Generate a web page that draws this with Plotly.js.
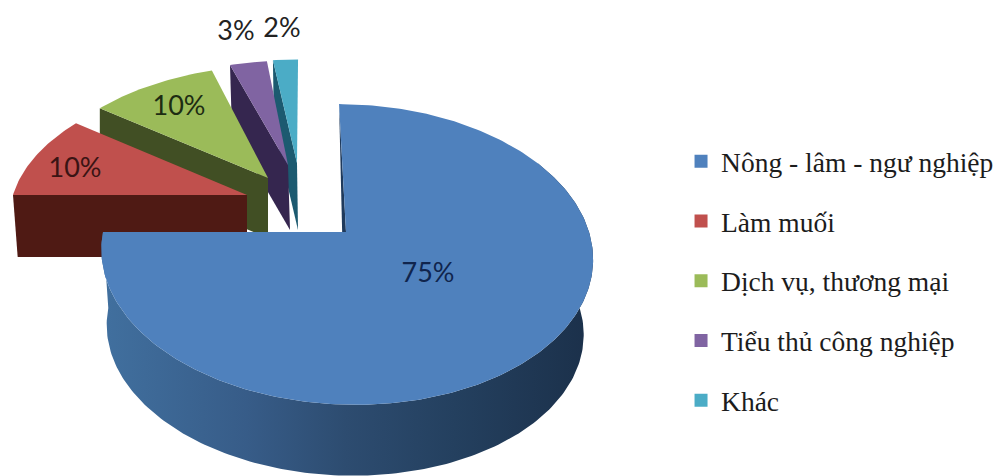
<!DOCTYPE html>
<html>
<head>
<meta charset="utf-8">
<script src="https://cdn.plot.ly/plotly-3.0.1.min.js"></script>
<style>html,body{margin:0;padding:0;background:#fff}#chart{width:1003px;height:476px}</style>
</head>
<body>
<div id="chart"></div>
<script>
// Shares of the local economy, in percent
const categories = ["Nông - lâm - ngư nghiệp", "Làm muối", "Dịch vụ, thương mại", "Tiểu thủ công nghiệp", "Khác"];
const shares = [75, 10, 10, 3, 2];
const topColors = ["#4f81bd", "#c0504d", "#9bbb59", "#8064a2", "#4bacc6"];
const sideColors = ["#1f3a5c", "#4f1a14", "#414f24", "#35264f", "#1c5a70"];
const labelColors = ["#10254d", "#3a1414", "#1d2c12", "#222222", "#222222"];

// Projection of each exploded wedge: tip position, radii, skew, extrusion depth
const wedgeViews = [
  {tipX: 346, tipY: 232, radX: 243, radY: 147, skew: -8, depth: 76, shrink: 0.97, driftX: -2},
  {tipX: 247, tipY: 195, radX: 234, radY: 133, skew: 5.6, depth: 62, shrink: 0.98, driftX: 0},
  {tipX: 268, tipY: 178, radX: 232, radY: 129, skew: 8, depth: 60, shrink: 1, driftX: 0},
  {tipX: 288, tipY: 165, radX: 228, radY: 120, skew: 4.4, depth: 65, shrink: 1, driftX: 2},
  {tipX: 297, tipY: 163, radX: 230, radY: 119, skew: 1.2, depth: 67, shrink: 1, driftX: 1}
];
const tilt = 0.1495;
const labelSpots = [[428, 275], [75, 170], [179, 108], [236, 33], [282, 30]];

// Turn a clockwise pie angle into page space on the upper or lower disc of a wedge
function project(view, deg, radius, lower) {
  const a = deg * Math.PI / 180;
  const u = Math.sin(a) * radius, v = Math.cos(a) * radius;
  const w = 1 + tilt * v;
  let x = (view.radX * u + view.skew * v) / w;
  let y = -view.radY * v / w;
  if (lower) {
    x = x * view.shrink + view.driftX;
    y = y * view.shrink + view.depth;
  }
  return [view.tipX + x, view.tipY + y];
}

function polygon(points, color, extra) {
  return Object.assign({
    x: points.map(p => p[0]), y: points.map(p => p[1]),
    type: "scatter", mode: "lines", fill: "toself", fillcolor: color,
    line: {width: 0}, hoverinfo: "skip", showlegend: false
  }, extra || {});
}

function rim(view, from, to, lower) {
  const pts = [];
  const steps = Math.max(2, Math.ceil(Math.abs(to - from)));
  for (let i = 0; i <= steps; i++) pts.push(project(view, from + (to - from) * i / steps, 1, lower));
  return pts;
}

const total = shares.reduce((s, v) => s + v, 0);
const spans = [];
shares.reduce((start, v) => {
  const end = start + v / total * 360;
  spans.push([start, end]);
  return end;
}, 0);

const traces = [];
// Far wedges are painted first so the nearer ones overlap them
for (let i = shares.length - 1; i >= 0; i--) {
  const view = wedgeViews[i], [from, to] = spans[i];
  const tipTop = project(view, 0, 0, false), tipLow = project(view, 0, 0, true);
  if (i === 0) {
    // Thin dark cut face at the start of the large wedge, then the shaded part of its outer wall
    const wallStart = from + 60;
    traces.push(polygon([project(view, from, 1, false), tipTop, tipLow], sideColors[i]));
    traces.push(polygon(rim(view, wallStart, to, false).concat(rim(view, to, wallStart, true)), sideColors[i], {
      fillgradient: {
        type: "horizontal", start: 100, stop: 592,
        colorscale: [[0, "#41709f"], [0.3, "#375c88"], [0.5, "#2d4c70"], [0.72, "#24405f"], [1, "#1b304a"]]
      }
    }));
  } else if (i === 1) {
    // The front of this wedge is the cut edge along its far end
    traces.push(polygon([project(view, to - 36, 1, false), tipTop, tipLow, project(view, to - 36, 1, true)], sideColors[i]));
  } else {
    traces.push(polygon([project(view, from, 1, false), tipTop, tipLow, project(view, from, 1, true)], sideColors[i]));
  }
  traces.push(polygon([tipTop].concat(rim(view, from, to, false)), topColors[i]));
}

// Percentage labels
traces.push({
  x: labelSpots.map(p => p[0]), y: labelSpots.map(p => p[1]),
  text: shares.map(v => v + "%"), type: "scatter", mode: "text", textposition: "middle center",
  textfont: {family: "Lato, sans-serif", size: 27, color: labelColors},
  hoverinfo: "skip", showlegend: false
});

// Legend entries, one group per category so that the rows can be spaced apart
categories.forEach((name, i) => traces.push({
  x: [-50], y: [-50], name: name, legendgroup: "g" + i,
  type: "scatter", mode: "markers", hoverinfo: "skip",
  marker: {symbol: "square", size: 13, color: topColors[i]}
}));

const layout = {
  width: 1003, height: 476,
  margin: {l: 0, r: 0, t: 0, b: 0},
  paper_bgcolor: "#ffffff", plot_bgcolor: "#ffffff",
  xaxis: {range: [0, 1003], visible: false, fixedrange: true},
  yaxis: {range: [476, 0], visible: false, fixedrange: true},
  legend: {
    x: 0.679, y: 0.41, xanchor: "left", yanchor: "middle", traceorder: "grouped",
    tracegroupgap: 21, itemwidth: 30, bgcolor: "rgba(0,0,0,0)",
    font: {family: "Liberation Serif, serif", size: 27.5, color: "#1c1c1c"}
  }
};

Plotly.newPlot("chart", traces, layout, {displayModeBar: false, staticPlot: true});
</script>
</body>
</html>
